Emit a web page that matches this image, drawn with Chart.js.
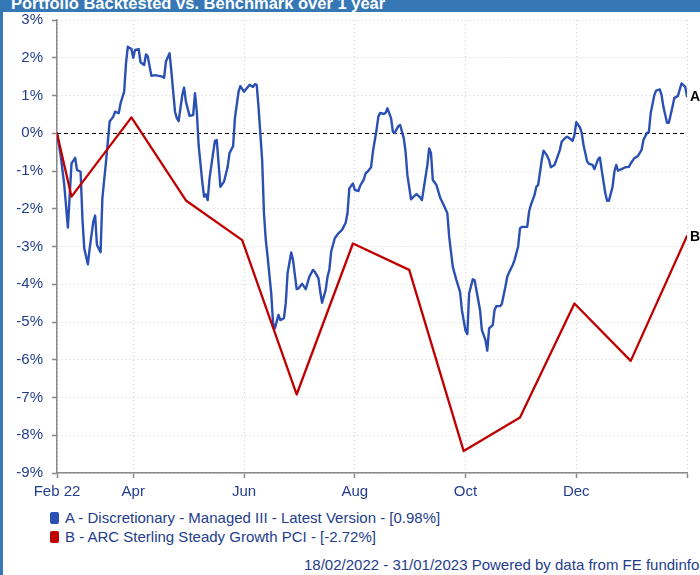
<!DOCTYPE html>
<html>
<head>
<meta charset="utf-8">
<title>Portfolio Backtested vs. Benchmark over 1 year</title>
<script src="https://cdn.jsdelivr.net/npm/chart.js@4"></script>
<style>
	body { margin: 0; background: #fff; font-family: 'Liberation Sans', Arial, sans-serif; }
	#page { position: relative; width: 700px; height: 575px; overflow: hidden; }
	#title { position: absolute; left: 0; top: 0; width: 700px; height: 12px; background: #3677b6; overflow: hidden; }
	#title span { position: absolute; left: 11px; top: -5px; line-height: 16px; font-size: 16.5px; font-weight: bold; color: #fff; white-space: nowrap; }
	#edge { position: absolute; left: 0; top: 12px; width: 3px; height: 563px; background: #3677b6; }
	#chart { position: absolute; left: 0; top: 0; }
	.legend { position: absolute; left: 50px; top: 508px; font-size: 15px; line-height: 19px; color: #233d8c; }
	.legend div { white-space: nowrap; }
	.legend i { display: inline-block; width: 9px; height: 12px; border-radius: 2px; margin-right: 6px; vertical-align: -1px; }
	#footer { position: absolute; left: 304px; top: 556px; font-size: 15px; line-height: 18px; color: #233d8c; white-space: nowrap; }
</style>
</head>
<body>
<div id="page">
	<canvas id="chart" width="700" height="500"></canvas>
	<div id="title"><span>Portfolio Backtested vs. Benchmark over 1 year</span></div>
	<div id="edge"></div>
	<div class="legend">
		<div><i style="background:#2a50b4"></i>A - Discretionary - Managed III - Latest Version - [0.98%]</div>
		<div><i style="background:#c00000"></i>B - ARC Sterling Steady Growth PCI - [-2.72%]</div>
	</div>
	<div id="footer">18/02/2022 - 31/01/2023 Powered by data from FE fundinfo</div>
</div>
<script>
// Days are counted from 18/02/2022, values are cumulative % returns
const TICK_DAYS = [0, 42, 103, 164, 225, 286, 347]
const TICK_LABELS = ['Feb 22', 'Apr', 'Jun', 'Aug', 'Oct', 'Dec', '']

const fundDays = [
	0, 2, 4, 6, 7, 8, 10, 11, 13, 14, 15, 17, 18, 20, 21, 22, 24, 25, 27, 29,
	31, 32, 34, 35, 37, 38, 39, 41, 42, 43, 45, 46, 48, 49, 50, 52, 54, 56, 58, 59,
	60, 62, 63, 65, 66, 67, 69, 70, 71, 73, 75, 76, 77, 78, 80, 81, 82, 83, 84, 86,
	87, 88, 90, 92, 94, 95, 97, 98, 100, 101, 103, 104, 106, 108, 109, 110, 111, 113, 114, 115,
	116, 118, 119, 120, 122, 123, 125, 126, 127, 129, 130, 132, 133, 135, 137, 139, 141, 142, 144, 145,
	146, 148, 149, 150, 151, 153, 155, 157, 159, 160, 161, 163, 164, 166, 167, 169, 170, 171, 173, 174,
	176, 177, 178, 180, 181, 182, 184, 185, 186, 188, 189, 191, 192, 193, 195, 196, 198, 200, 201, 202,
	204, 205, 206, 207, 209, 211, 213, 215, 216, 218, 220, 222, 223, 225, 226, 227, 229, 230, 231, 233,
	234, 236, 237, 238, 240, 241, 242, 244, 245, 247, 248, 249, 251, 252, 254, 255, 256, 259, 260, 261,
	263, 264, 265, 267, 268, 270, 271, 272, 274, 275, 277, 278, 280, 281, 283, 284, 285, 286, 288, 289,
	290, 292, 293, 295, 296, 298, 299, 300, 302, 303, 304, 306, 307, 308, 309, 311, 313, 315, 316, 318,
	320, 322, 323, 325, 326, 327, 329, 330, 332, 333, 334, 336, 337, 339, 340, 342, 343, 344, 346, 347
]
const fundValues = [
	0.00, -0.58, -1.37, -2.50, -1.64, -0.80, -0.65, -0.97, -1.02, -2.25, -3.05, -3.47, -3.05, -2.34, -2.18, -2.96, -3.15, -1.72, -0.75, 0.31,
	0.44, 0.57, 0.53, 0.79, 1.10, 1.85, 2.29, 2.23, 2.00, 2.21, 2.23, 1.88, 1.81, 2.09, 2.03, 1.52, 1.54, 1.52, 1.50, 1.47,
	1.90, 2.12, 1.63, 0.57, 0.40, 0.32, 1.01, 1.21, 0.84, 0.46, 0.48, 1.06, 0.57, -0.31, -1.28, -1.68, -1.62, -1.77, -1.20, -0.52,
	-0.20, -0.18, -1.42, -1.28, -0.89, -0.53, -0.34, 0.40, 1.10, 1.25, 1.10, 1.16, 1.28, 1.23, 1.30, 1.28, 0.70, -0.71, -2.12, -2.83,
	-3.27, -4.24, -5.03, -5.17, -4.81, -4.95, -4.90, -4.50, -3.71, -3.16, -3.36, -4.13, -4.11, -3.99, -4.13, -3.80, -3.62, -3.67, -3.84, -4.20,
	-4.49, -4.15, -3.80, -3.62, -3.14, -2.78, -2.65, -2.56, -2.37, -2.12, -1.46, -1.33, -1.50, -1.53, -1.39, -1.22, -1.06, -1.02, -0.90, -0.49,
	0.09, 0.44, 0.54, 0.51, 0.54, 0.66, 0.40, 0.04, 0.01, 0.19, 0.22, -0.13, -0.49, -1.11, -1.75, -1.70, -1.61, -1.70, -1.77, -1.46,
	-0.84, -0.40, -0.53, -1.24, -1.37, -1.70, -1.90, -2.12, -2.74, -3.54, -3.89, -4.20, -4.68, -5.23, -5.32, -4.24, -3.87, -3.89, -4.15, -4.68,
	-5.21, -5.48, -5.76, -5.17, -5.08, -4.68, -4.58, -4.58, -4.52, -4.06, -3.80, -3.69, -3.49, -3.36, -3.00, -2.52, -2.48, -2.48, -2.08, -1.90,
	-1.64, -1.42, -1.37, -0.71, -0.46, -0.60, -0.71, -0.90, -0.84, -0.71, -0.44, -0.22, -0.12, -0.09, -0.16, -0.20, -0.05, 0.29, 0.16, 0.01,
	-0.31, -0.75, -0.81, -0.84, -0.95, -0.69, -0.64, -0.97, -1.59, -1.79, -1.79, -1.42, -1.02, -0.84, -0.99, -0.95, -0.90, -0.89, -0.80, -0.66,
	-0.60, -0.44, -0.18, 0.01, 0.03, 0.53, 1.01, 1.13, 1.16, 1.01, 0.70, 0.28, 0.28, 0.70, 0.93, 0.99, 1.16, 1.32, 1.23, 0.98
]

// Benchmark is only published at month ends
const benchDays = [0, 8, 41, 71, 102, 132, 163, 194, 224, 255, 285, 316, 347]
const benchValues = [0, -1.68, 0.42, -1.78, -2.83, -6.92, -2.92, -3.62, -8.42, -7.53, -4.51, -6.03, -2.72]

const BLUE = '#2a50b4'
const RED = '#c00000'
const NAVY = '#233d8c'
const FONT = { family: "'Liberation Sans', Arial, sans-serif", size: 15 }

function toPoints(days, values) {
	return days.map((d, i) => ({ x: d, y: values[i] }))
}

// Dashed line through 0%
const zeroLine = {
	id: 'zeroLine',
	beforeDatasetsDraw(chart) {
		const { ctx, chartArea, scales } = chart
		const y = Math.round(scales.y.getPixelForValue(0)) + 0.5
		ctx.save()
		ctx.strokeStyle = '#000'
		ctx.lineWidth = 1
		ctx.setLineDash([4, 3])
		ctx.beginPath()
		ctx.moveTo(chartArea.left, y)
		ctx.lineTo(chartArea.right, y)
		ctx.stroke()
		ctx.restore()
	}
}

// Series letter next to the last point of each line
const endLabels = {
	id: 'endLabels',
	afterDatasetsDraw(chart) {
		const ctx = chart.ctx
		ctx.save()
		ctx.font = 'bold 14px ' + FONT.family
		ctx.fillStyle = '#000'
		ctx.textBaseline = 'middle'
		chart.data.datasets.forEach((ds, i) => {
			const pts = chart.getDatasetMeta(i).data
			const last = pts[pts.length - 1]
			ctx.fillText(ds.tag, last.x + 3, last.y + 1)
		})
		ctx.restore()
	}
}

new Chart(document.getElementById('chart'), {
	type: 'line',
	data: {
		datasets: [
			{ tag: 'A', data: toPoints(fundDays, fundValues), borderColor: BLUE, borderWidth: 2.4, order: 1 },
			{ tag: 'B', data: toPoints(benchDays, benchValues), borderColor: RED, borderWidth: 2.3, order: 0 }
		]
	},
	options: {
		responsive: false,
		animation: false,
		devicePixelRatio: 1,
		layout: { padding: { left: 0, top: 20, right: 13, bottom: 0 } },
		elements: {
			point: { radius: 0 },
			line: { tension: 0, borderJoinStyle: 'round', borderCapStyle: 'round' }
		},
		plugins: { legend: { display: false }, tooltip: { enabled: false } },
		scales: {
			x: {
				type: 'linear',
				min: 0,
				max: 347,
				afterBuildTicks: axis => { axis.ticks = TICK_DAYS.map(v => ({ value: v })) },
				afterFit: axis => { axis.height = 27 },
				ticks: {
					autoSkip: false,
					maxRotation: 0,
					padding: 5,
					font: FONT,
					color: NAVY,
					callback: v => TICK_LABELS[TICK_DAYS.indexOf(v)]
				},
				grid: { color: '#cfcfcf', lineWidth: 1, tickLength: 5, tickColor: '#8a8a8a', tickWidth: 1.5 },
				border: { color: '#8a8a8a', width: 1.5, dash: [1, 3] }
			},
			y: {
				min: -9,
				max: 3,
				afterFit: axis => { axis.width = 57 },
				ticks: {
					stepSize: 1,
					padding: 9,
					font: FONT,
					color: NAVY,
					callback: v => v + '%'
				},
				grid: { color: '#cfcfcf', lineWidth: 1, tickLength: 5, tickColor: '#8a8a8a', tickWidth: 1.5 },
				border: { color: '#8a8a8a', width: 1.5, dash: [1, 3] }
			}
		}
	},
	plugins: [zeroLine, endLabels]
})
</script>
</body>
</html>
